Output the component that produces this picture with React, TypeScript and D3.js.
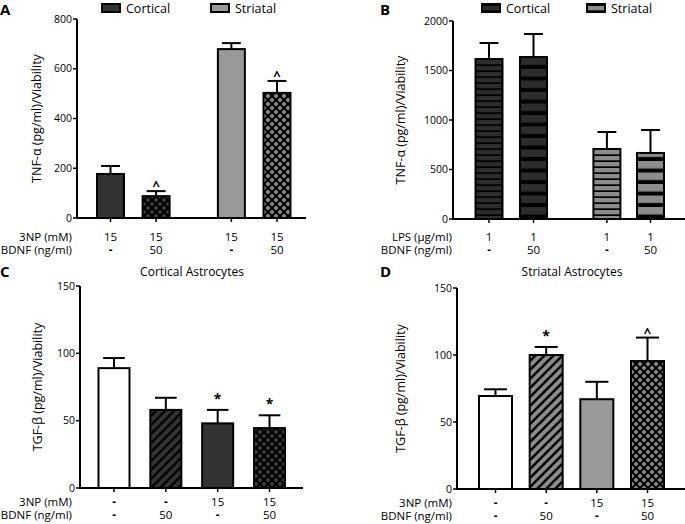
import React from "react";
import * as d3 from "d3";

// ---------- DATA ----------
const panelA_values = [177, 88, 679, 503];
const panelA_sem = [32, 20, 24, 48];
const panelA_ticks = [0, 200, 400, 600, 800];
const panelA_row1 = ["15", "15", "15", "15"];
const panelA_row2 = ["-", "50", "-", "50"];
const panelA_marks = ["", "^", "", "^"];

const panelB_values = [1616, 1636, 707, 667];
const panelB_sem = [162, 233, 172, 232];
const panelB_ticks = [0, 500, 1000, 1500, 2000];
const panelB_row1 = ["1", "1", "1", "1"];
const panelB_row2 = ["-", "50", "-", "50"];
const panelB_marks = ["", "", "", ""];

const panelC_values = [89, 58, 48, 44.5];
const panelC_sem = [7.5, 9, 10, 9.5];
const panelCD_ticks = [0, 50, 100, 150];
const panelC_row1 = ["-", "-", "15", "15"];
const panelC_row2 = ["-", "50", "-", "50"];
const panelC_marks = ["", "", "*", "*"];

const panelD_values = [69.4, 100, 67, 95.5];
const panelD_sem = [5, 6, 13, 17.5];
const panelD_row1 = ["-", "-", "15", "15"];
const panelD_row2 = ["-", "50", "-", "50"];
const panelD_marks = ["", "*", "", "^"];

const legendLabels = ["Cortical", "Striatal"];

const FONT = "'Open Sans', sans-serif";

type Panel = {
  letter: string;
  letterX: number;
  letterY: number;
  values: number[];
  sem: number[];
  ticks: number[];
  row1: string[];
  row2: string[];
  rowLabels: string[];
  rowLabelX: number;
  marks: string[];
  fills: string[];
  axisX: number;
  axisEnd: number;
  yTop: number;
  yBottom: number;
  positions: number[];
  firstCenter: number;
  lastCenter: number;
  barWidth: number;
  yLabel: string;
  yLabelX: number;
  rowY1: number;
  rowY2: number;
  title?: string;
  titleX?: number;
  titleY?: number;
  legend?: { boxX: number[]; fill: string[] };
};

const panels: Panel[] = [
  {
    letter: "A", letterX: 0, letterY: 15,
    values: panelA_values, sem: panelA_sem, ticks: panelA_ticks,
    row1: panelA_row1, row2: panelA_row2, rowLabels: ["3NP (mM)", "BDNF (ng/ml)"], rowLabelX: 72,
    marks: panelA_marks,
    fills: ["#333333", "url(#crossDark)", "#999999", "url(#crossLight)"],
    axisX: 77, axisEnd: 306, yTop: 19, yBottom: 218,
    positions: [0, 1, 2.65, 3.65], firstCenter: 110.5, lastCenter: 277, barWidth: 27,
    yLabel: "TNF-α (pg/ml)/Viability", yLabelX: 41, rowY1: 240.5, rowY2: 254,
    legend: { boxX: [102, 211], fill: ["#333333", "#999999"] },
  },
  {
    letter: "B", letterX: 380, letterY: 15,
    values: panelB_values, sem: panelB_sem, ticks: panelB_ticks,
    row1: panelB_row1, row2: panelB_row2, rowLabels: ["LPS (µg/ml)", "BDNF (ng/ml)"], rowLabelX: 452,
    marks: panelB_marks,
    fills: ["url(#stripeDarkN)", "url(#stripeDarkW)", "url(#stripeLightN)", "url(#stripeLightW)"],
    axisX: 453, axisEnd: 685, yTop: 21, yBottom: 219,
    positions: [0, 1, 2.65, 3.63], firstCenter: 489, lastCenter: 650.5, barWidth: 27,
    yLabel: "TNF-α (pg/ml)/Viability", yLabelX: 405, rowY1: 240.5, rowY2: 254,
    legend: { boxX: [482, 587], fill: ["url(#stripeDarkN)", "url(#stripeLightN)"] },
  },
  {
    letter: "C", letterX: 0, letterY: 277,
    values: panelC_values, sem: panelC_sem, ticks: panelCD_ticks,
    row1: panelC_row1, row2: panelC_row2, rowLabels: ["3NP (mM)", "BDNF (ng/ml)"], rowLabelX: 72,
    marks: panelC_marks,
    fills: ["#ffffff", "url(#diagDark)", "#333333", "url(#crossDark)"],
    axisX: 80, axisEnd: 303, yTop: 286, yBottom: 488,
    positions: [0, 1, 2, 3], firstCenter: 114, lastCenter: 269.5, barWidth: 31,
    yLabel: "TGF-β (pg/ml)/Viability", yLabelX: 42, rowY1: 505.5, rowY2: 519,
    title: "Cortical Astrocytes", titleX: 192, titleY: 276,
  },
  {
    letter: "D", letterX: 380, letterY: 277,
    values: panelD_values, sem: panelD_sem, ticks: panelCD_ticks,
    row1: panelD_row1, row2: panelD_row2, rowLabels: ["3NP (mM)", "BDNF (ng/ml)"], rowLabelX: 452,
    marks: panelD_marks,
    fills: ["#ffffff", "url(#diagLight)", "#999999", "url(#crossLight)"],
    axisX: 457, axisEnd: 685, yTop: 288, yBottom: 489,
    positions: [0, 1, 2, 3], firstCenter: 495.5, lastCenter: 647.5, barWidth: 33,
    yLabel: "TGF-β (pg/ml)/Viability", yLabelX: 405, rowY1: 506.5, rowY2: 520,
    title: "Striatal Astrocytes", titleX: 572, titleY: 276,
  },
];

function Defs() {
  return (
    <defs>
      <pattern id="crossDark" patternUnits="userSpaceOnUse" width="8" height="8">
        <rect width="8" height="8" fill="#3a3a3a" />
        <path d="M-2,2 L2,-2 M0,8 L8,0 M6,10 L10,6" stroke="#000" strokeWidth="2" />
        <path d="M-2,6 L2,10 M0,0 L8,8 M6,-2 L10,2" stroke="#000" strokeWidth="2" />
      </pattern>
      <pattern id="crossLight" patternUnits="userSpaceOnUse" width="8" height="8">
        <rect width="8" height="8" fill="#8a8a8a" />
        <path d="M-2,2 L2,-2 M0,8 L8,0 M6,10 L10,6" stroke="#000" strokeWidth="2" />
        <path d="M-2,6 L2,10 M0,0 L8,8 M6,-2 L10,2" stroke="#000" strokeWidth="2" />
      </pattern>
      <pattern id="stripeDarkN" patternUnits="userSpaceOnUse" width="10" height="6">
        <rect width="10" height="6" fill="#2c2c2c" />
        <rect y="4.3" width="10" height="1.7" fill="#000" />
      </pattern>
      <pattern id="stripeDarkW" patternUnits="userSpaceOnUse" width="10" height="11.5">
        <rect width="10" height="11.5" fill="#2c2c2c" />
        <rect y="7.5" width="10" height="4" fill="#000" />
      </pattern>
      <pattern id="stripeLightN" patternUnits="userSpaceOnUse" width="10" height="6">
        <rect width="10" height="6" fill="#8c8c8c" />
        <rect y="4.3" width="10" height="1.7" fill="#000" />
      </pattern>
      <pattern id="stripeLightW" patternUnits="userSpaceOnUse" width="10" height="11.5">
        <rect width="10" height="11.5" fill="#8c8c8c" />
        <rect y="7.5" width="10" height="4" fill="#000" />
      </pattern>
      <pattern id="diagDark" patternUnits="userSpaceOnUse" width="9" height="9">
        <rect width="9" height="9" fill="#333333" />
        <path d="M-2,11 L11,-2 M-2,2 L2,-2 M7,11 L11,7" stroke="#000" strokeWidth="2.6" />
      </pattern>
      <pattern id="diagLight" patternUnits="userSpaceOnUse" width="9" height="9">
        <rect width="9" height="9" fill="#8c8c8c" />
        <path d="M-2,11 L11,-2 M-2,2 L2,-2 M7,11 L11,7" stroke="#000" strokeWidth="2.6" />
      </pattern>
    </defs>
  );
}

function PanelView({ p }: { p: Panel }) {
  const max = p.ticks[p.ticks.length - 1];
  const y = d3.scaleLinear().domain([0, max]).range([p.yBottom, p.yTop]);
  const pmax = p.positions[p.positions.length - 1];
  const x = d3.scaleLinear().domain([0, pmax]).range([p.firstCenter, p.lastCenter]);
  const capW = p.barWidth * 0.7;
  const yMid = (p.yTop + p.yBottom) / 2;
  return (
    <g>
      <text x={p.letterX} y={p.letterY} fontFamily={FONT} fontWeight="bold" fontSize={15}>
        {p.letter}
      </text>
      {p.title && (
        <text x={p.titleX} y={p.titleY} textAnchor="middle" fontFamily={FONT} fontSize={12}>
          {p.title}
        </text>
      )}
      {p.legend &&
        legendLabels.map((lab, i) => (
          <g key={lab}>
            <rect x={p.legend!.boxX[i]} y={4} width={18} height={8} fill={p.legend!.fill[i]} stroke="#000" strokeWidth={2} />
            <text x={p.legend!.boxX[i] + 24} y={12.5} fontFamily={FONT} fontSize={12.5}>
              {lab}
            </text>
          </g>
        ))}
      <text
        transform={`translate(${p.yLabelX},${yMid}) rotate(-90)`}
        textAnchor="middle"
        fontFamily={FONT}
        fontSize={12.5}
      >
        {p.yLabel}
      </text>
      {/* bars */}
      {p.values.map((v, i) => {
        const cx = x(p.positions[i]);
        const top = y(v);
        const et = y(v + p.sem[i]);
        const m = p.marks[i];
        return (
          <g key={i}>
            <line x1={cx} x2={cx} y1={top} y2={et} stroke="#000" strokeWidth={2} />
            <line x1={cx - capW / 2} x2={cx + capW / 2} y1={et} y2={et} stroke="#000" strokeWidth={2} />
            <rect
              x={cx - p.barWidth / 2}
              y={top}
              width={p.barWidth}
              height={p.yBottom - top}
              fill={p.fills[i]}
              stroke="#000"
              strokeWidth={2}
            />
            {m && (
              <text
                x={cx}
                y={m === "*" ? et - 6 : et - 1}
                textAnchor="middle"
                fontFamily={FONT}
                fontWeight="bold"
                fontSize={m === "*" ? 14 : 13}
              >
                {m}
              </text>
            )}
            <line x1={cx} x2={cx} y1={p.yBottom} y2={p.yBottom + 4} stroke="#000" strokeWidth={1.5} />
            <text x={cx} y={p.rowY1} textAnchor="middle" fontFamily={FONT} fontSize={11.5}
              fontWeight={p.row1[i] === "-" ? "bold" : "normal"}>
              {p.row1[i]}
            </text>
            <text x={cx} y={p.rowY2} textAnchor="middle" fontFamily={FONT} fontSize={11.5}
              fontWeight={p.row2[i] === "-" ? "bold" : "normal"}>
              {p.row2[i]}
            </text>
          </g>
        );
      })}
      {/* y axis */}
      <line x1={p.axisX} x2={p.axisX} y1={p.yTop} y2={p.yBottom} stroke="#000" strokeWidth={2} />
      {p.ticks.map((t) => (
        <g key={t}>
          <line x1={p.axisX - 4} x2={p.axisX} y1={y(t)} y2={y(t)} stroke="#000" strokeWidth={1.5} />
          <text x={p.axisX - 5} y={y(t) + 3.5} textAnchor="end" fontFamily={FONT} fontSize={10.5}>
            {t}
          </text>
        </g>
      ))}
      {/* x axis */}
      <line x1={p.axisX - 1} x2={p.axisEnd} y1={p.yBottom} y2={p.yBottom} stroke="#000" strokeWidth={2} />
      <text x={p.rowLabelX} y={p.rowY1} textAnchor="end" fontFamily={FONT} fontSize={11.5}>
        {p.rowLabels[0]}
      </text>
      <text x={p.rowLabelX} y={p.rowY2} textAnchor="end" fontFamily={FONT} fontSize={11.5}>
        {p.rowLabels[1]}
      </text>
    </g>
  );
}

export default function App() {
  return (
    <svg width={685} height={524} style={{ position: "absolute", left: 0, top: 0, background: "#fff" }}>
      <Defs />
      {panels.map((p) => (
        <PanelView key={p.letter} p={p} />
      ))}
    </svg>
  );
}
